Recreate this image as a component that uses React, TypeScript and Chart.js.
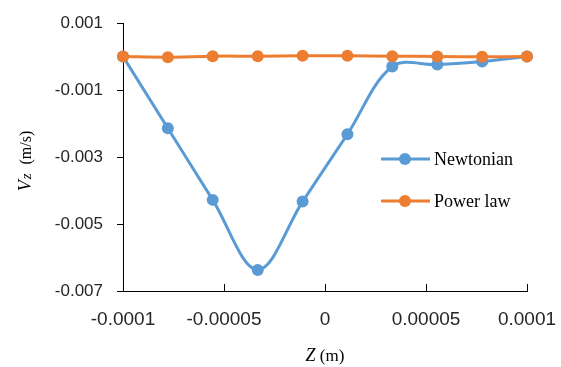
import React, { useEffect, useRef } from "react";
import { Chart, registerables } from "chart.js";

Chart.register(...registerables);

// ---- data ----
const zPositions = [-0.0001, -0.0000778, -0.0000556, -0.0000333, -0.0000111, 0.0000111, 0.0000333, 0.0000556, 0.0000778, 0.0001];
const newtonian = [0, -0.00214, -0.00428, -0.00637, -0.00433, -0.00232, -0.0003, -0.00024, -0.00015, 0];
const powerLaw = [0, -0.00002, 0.00001, 0.00001, 0.00002, 0.00002, 0.00001, 0, -0.00001, 0];
const xTickValues = [-0.0001, -0.00005, 0, 0.00005, 0.0001];
const xTickLabels = ["-0.0001", "-0.00005", "0", "0.00005", "0.0001"];
const yTickValues = [-0.007, -0.005, -0.003, -0.001, 0.001];
const yTickLabels = ["-0.007", "-0.005", "-0.003", "-0.001", "0.001"];
const seriesNames = ["Newtonian", "Power law"];
const seriesColors = ["#5B9BD5", "#ED7D31"];

const decorPlugin = {
  id: "decor",
  afterDraw(chart: any) {
    const ctx = chart.ctx as CanvasRenderingContext2D;
    const { left, bottom } = chart.chartArea;
    const xs = chart.scales.x;
    const ys = chart.scales.y;
    ctx.save();
    // tick marks
    ctx.strokeStyle = "#000";
    ctx.lineWidth = 1;
    ctx.beginPath();
    yTickValues.forEach((v) => {
      const py = Math.round(ys.getPixelForValue(v)) + 0.5;
      ctx.moveTo(left - 6, py);
      ctx.lineTo(left, py);
    });
    xTickValues.forEach((v, i) => {
      if (i === 0) return;
      const px = Math.round(xs.getPixelForValue(v)) + 0.5;
      ctx.moveTo(px, bottom);
      ctx.lineTo(px, bottom - 7);
    });
    ctx.stroke();

    // legend
    const legendY = [159, 201];
    seriesNames.forEach((name, i) => {
      const y = legendY[i];
      ctx.strokeStyle = seriesColors[i];
      ctx.lineWidth = 3;
      ctx.beginPath();
      ctx.moveTo(381, y);
      ctx.lineTo(430, y);
      ctx.stroke();
      ctx.fillStyle = seriesColors[i];
      ctx.beginPath();
      ctx.arc(405, y, 6, 0, Math.PI * 2);
      ctx.fill();
      ctx.fillStyle = "#000";
      ctx.font = "18px 'Liberation Serif'";
      ctx.textAlign = "left";
      ctx.textBaseline = "middle";
      ctx.fillText(name, 434, y + 1);
    });

    // x title: Z (m)
    ctx.fillStyle = "#000";
    ctx.textBaseline = "alphabetic";
    ctx.textAlign = "left";
    const f1 = "italic 18px 'Liberation Serif'";
    const f2 = "17px 'Liberation Serif'";
    ctx.font = f1;
    const wZ = ctx.measureText("Z").width;
    ctx.font = f2;
    const wM = ctx.measureText(" (m)").width;
    let sx = 325 - (wZ + wM) / 2;
    ctx.font = f1;
    ctx.fillText("Z", sx, 361);
    ctx.font = f2;
    ctx.fillText(" (m)", sx + wZ, 361);

    // y title: Vz (m/s) rotated
    ctx.translate(31, 161);
    ctx.rotate(-Math.PI / 2);
    const g1 = "italic 18px 'Liberation Serif'";
    const g2 = "italic 15px 'Liberation Serif'";
    const g3 = "16px 'Liberation Serif'";
    ctx.font = g1;
    const wV = ctx.measureText("V").width;
    ctx.font = g2;
    const wz = ctx.measureText("z").width + 2;
    ctx.font = g3;
    const wU = ctx.measureText("  (m/s)").width;
    let ty = -(wV + wz + wU) / 2;
    ctx.font = g1;
    ctx.fillText("V", ty, 0);
    ctx.font = g2;
    ctx.fillText("z", ty + wV + 1, 0);
    ctx.font = g3;
    ctx.fillText("  (m/s)", ty + wV + wz, 0);
    ctx.restore();
  },
};

export default function App() {
  const canvasRef = useRef<HTMLCanvasElement | null>(null);

  useEffect(() => {
    document.body.style.margin = "0";
    document.body.style.overflow = "hidden";
    const canvas = canvasRef.current;
    if (!canvas) return;
    const chart = new Chart(canvas, {
      type: "line",
      data: {
        datasets: [
          {
            label: seriesNames[0],
            data: zPositions.map((x, i) => ({ x, y: newtonian[i] })),
            borderColor: seriesColors[0],
            backgroundColor: seriesColors[0],
            pointBackgroundColor: seriesColors[0],
            pointBorderColor: seriesColors[0],
            borderWidth: 3,
            pointRadius: 6,
            pointBorderWidth: 0,
            tension: 0.35,
            clip: false as any,
            order: 2,
          },
          {
            label: seriesNames[1],
            data: zPositions.map((x, i) => ({ x, y: powerLaw[i] })),
            borderColor: seriesColors[1],
            backgroundColor: seriesColors[1],
            pointBackgroundColor: seriesColors[1],
            pointBorderColor: seriesColors[1],
            borderWidth: 3,
            pointRadius: 6,
            pointBorderWidth: 0,
            tension: 0.35,
            clip: false as any,
            order: 1,
          },
        ],
      },
      options: {
        animation: false,
        responsive: true,
        maintainAspectRatio: false,
        layout: { padding: { top: 23, right: 34, bottom: 0, left: 0 } },
        plugins: {
          legend: { display: false },
          tooltip: { enabled: false },
        },
        scales: {
          x: {
            type: "linear",
            min: -0.0001,
            max: 0.0001,
            afterBuildTicks: (scale: any) => {
              scale.ticks = xTickValues.map((v) => ({ value: v }));
            },
            afterFit: (scale: any) => {
              scale.height = 76;
              scale.paddingLeft = 0;
              scale.paddingRight = 0;
              scale.paddingTop = 0;
              scale.paddingBottom = 0;
            },
            grid: { display: false, drawTicks: false },
            border: { display: true, color: "#000", width: 1 },
            ticks: {
              padding: 17,
              maxRotation: 0,
              autoSkip: false,
              color: "#262626",
              font: { family: "'Liberation Sans'", size: 19 },
              callback: (_v: any, i: number) => xTickLabels[i],
            },
          },
          y: {
            type: "linear",
            min: -0.007,
            max: 0.001,
            afterBuildTicks: (scale: any) => {
              scale.ticks = yTickValues.map((v) => ({ value: v }));
            },
            afterFit: (scale: any) => {
              scale.width = 123;
              scale.paddingLeft = 0;
              scale.paddingRight = 0;
              scale.paddingTop = 0;
              scale.paddingBottom = 0;
            },
            grid: { display: false, drawTicks: false },
            border: { display: true, color: "#000", width: 1 },
            ticks: {
              padding: 20,
              autoSkip: false,
              color: "#262626",
              font: { family: "'Liberation Sans'", size: 17 },
              callback: (_v: any, i: number) => yTickLabels[i],
            },
          },
        },
      },
      plugins: [decorPlugin],
    });
    return () => chart.destroy();
  }, []);

  return (
    <div style={{ position: "relative", width: 561, height: 367 }}>
      <canvas ref={canvasRef} />
    </div>
  );
}
